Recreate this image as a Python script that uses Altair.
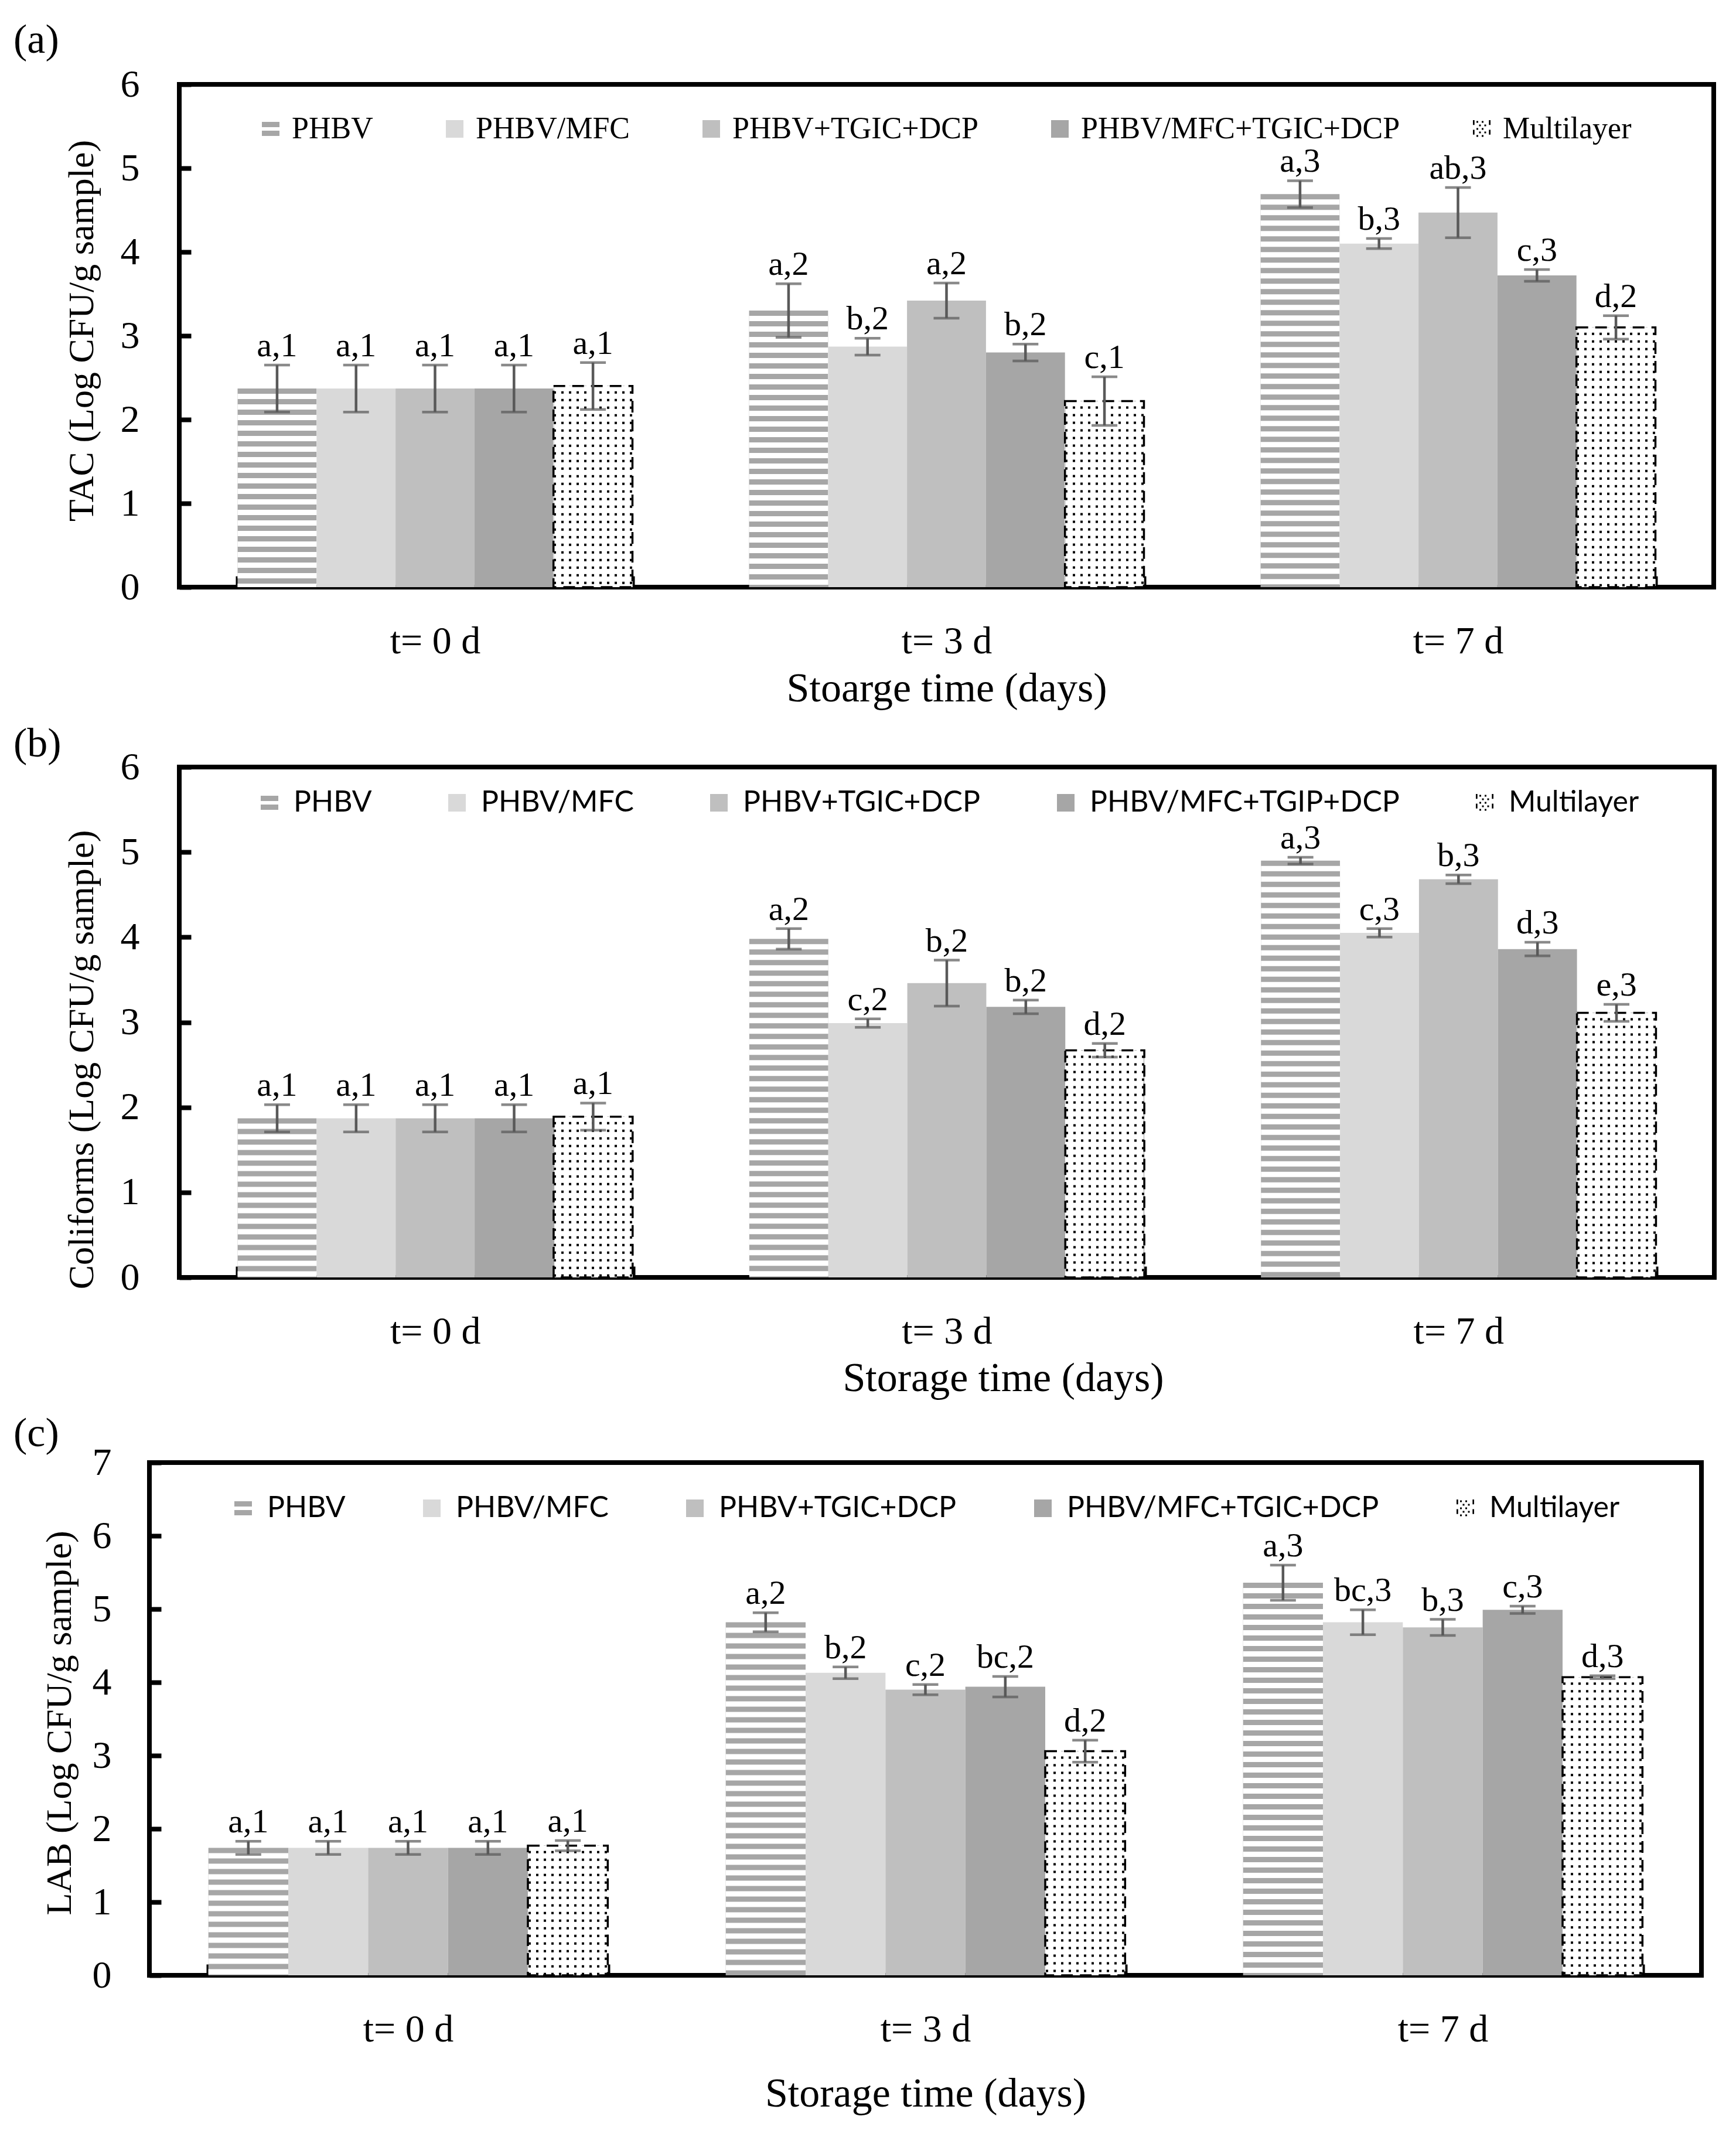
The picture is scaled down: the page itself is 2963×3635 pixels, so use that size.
import altair as alt
import pandas as pd

# ---------------- data ----------------
times = ["t= 0 d", "t= 3 d", "t= 7 d"]

series_tac = ["PHBV", "PHBV/MFC", "PHBV+TGIC+DCP", "PHBV/MFC+TGIC+DCP", "Multilayer"]
series_col = ["PHBV", "PHBV/MFC", "PHBV+TGIC+DCP", "PHBV/MFC+TGIP+DCP", "Multilayer"]
series_lab = ["PHBV", "PHBV/MFC", "PHBV+TGIC+DCP", "PHBV/MFC+TGIC+DCP", "Multilayer"]

# rows: storage time, columns: film
tac_mean = [[2.37, 2.37, 2.37, 2.37, 2.40],
            [3.30, 2.87, 3.42, 2.80, 2.22],
            [4.69, 4.10, 4.47, 3.72, 3.10]]
tac_err = [[0.28, 0.28, 0.28, 0.28, 0.28],
           [0.32, 0.10, 0.21, 0.10, 0.29],
           [0.16, 0.06, 0.30, 0.07, 0.14]]
tac_letters = [["a,1", "a,1", "a,1", "a,1", "a,1"],
               ["a,2", "b,2", "a,2", "b,2", "c,1"],
               ["a,3", "b,3", "ab,3", "c,3", "d,2"]]

col_mean = [[1.87, 1.87, 1.87, 1.87, 1.89],
            [3.98, 2.99, 3.46, 3.18, 2.67],
            [4.90, 4.05, 4.68, 3.86, 3.11]]
col_err = [[0.16, 0.16, 0.16, 0.16, 0.16],
           [0.12, 0.05, 0.27, 0.08, 0.08],
           [0.04, 0.05, 0.05, 0.08, 0.10]]
col_letters = [["a,1", "a,1", "a,1", "a,1", "a,1"],
               ["a,2", "c,2", "b,2", "b,2", "d,2"],
               ["a,3", "c,3", "b,3", "d,3", "e,3"]]

lab_mean = [[1.74, 1.74, 1.74, 1.74, 1.77],
            [4.82, 4.13, 3.90, 3.94, 3.06],
            [5.36, 4.82, 4.75, 4.99, 4.07]]
lab_err = [[0.09, 0.09, 0.09, 0.09, 0.07],
           [0.13, 0.08, 0.07, 0.14, 0.15],
           [0.24, 0.17, 0.11, 0.05, 0.02]]
lab_letters = [["a,1", "a,1", "a,1", "a,1", "a,1"],
               ["a,2", "b,2", "c,2", "bc,2", "d,2"],
               ["a,3", "bc,3", "b,3", "c,3", "d,3"]]

fill_colors = ["#a6a6a6", "#d9d9d9", "#bfbfbf", "#a6a6a6", "#ffffff"]
legend_colors = ["#a6a6a6", "#d9d9d9", "#bfbfbf", "#a6a6a6", "#000000"]
ERR_COLOR = "#595959"
SERIF = "Liberation Serif"
SANS = "Lato"

# legend symbols
PATH_EQ = "M-1,-0.8H1V-0.2H-1Z M-1,0.2H1V0.8H-1Z"
ml_parts = []
for r, yy in enumerate([-0.9, -0.5, -0.1, 0.3, 0.7]):
    xs = [-0.5, 0.1] if r % 2 == 0 else [-0.2, 0.4]
    for xx in xs:
        ml_parts.append(f"M{xx - 0.1:.2f},{yy:.2f}h0.2v0.2h-0.2Z")
ml_parts += ["M-1,-1H-0.82V-0.45H-1Z", "M-1,0.1H-0.82V0.65H-1Z",
             "M0.82,-1H1V-0.45H0.82Z", "M0.82,0.1H1V0.65H0.82Z"]
PATH_ML = " ".join(ml_parts)

ALL_IND = dict(x="independent", y="independent", xOffset="independent",
               fill="independent", color="independent", shape="independent")
LEG_IND = dict(color="independent", shape="independent", fill="independent")


def dot_gradient(width, period=13.0, dot=4.0):
    n = int((width - dot) // period) + 1
    margin = (width - (n - 1) * period - dot) / 2
    stops = [alt.GradientStop(color="white", offset=0)]
    for k in range(n):
        a = (margin + k * period) / width
        b = (margin + k * period + dot) / width
        stops += [alt.GradientStop(color="white", offset=a),
                  alt.GradientStop(color="black", offset=a),
                  alt.GradientStop(color="black", offset=b),
                  alt.GradientStop(color="white", offset=b)]
    stops.append(alt.GradientStop(color="white", offset=1))
    return alt.Gradient(gradient="linear", stops=stops, x1=0, x2=1, y1=0, y2=0)


def make_panel(p):
    rows = []
    for i, t in enumerate(times):
        for j, s in enumerate(p["series"]):
            m = p["mean"][i][j]
            e = p["err"][i][j]
            rows.append(dict(time=t, series=s, mean=m, lo=m - e, hi=m + e,
                             zero=0, label=p["letters"][i][j]))
    df = pd.DataFrame(rows)
    W, H = p["width"], p["height"]
    pin = 0.228
    sub = (W / 3) * (1 - pin) / 5
    series = p["series"]

    xaxis = alt.Axis(title=p["xtitle"], offset=-19, tickSize=19, tickWidth=8,
                     tickColor="black", tickBand="extent", domain=False, grid=False,
                     labelAngle=0, labelPadding=60, labelFont=SERIF, labelFontSize=66,
                     labelColor="black", titleFont=SERIF, titleFontSize=70,
                     titleFontWeight="normal", titleColor="black",
                     titlePadding=p["xtitle_pad"], **p.get("xtitle_extra", {}))
    yaxis = alt.Axis(title=p["ytitle"], values=list(range(p["ymax"] + 1)), format="d",
                     offset=-20, tickSize=20, tickWidth=8, tickColor="black",
                     domain=False, grid=False, labelFlush=False, labelOverlap=False,
                     labelPadding=p["ylabel_pad"], labelFont=SERIF, labelFontSize=66,
                     labelColor="black", titleFont=SERIF, titleFontSize=62,
                     titleFontWeight="normal", titleColor="black",
                     titlePadding=p["ytitle_pad"], titleY=p["ytitle_y"])
    xscale = alt.Scale(domain=times, paddingInner=pin, paddingOuter=pin / 2)
    yscale = alt.Scale(domain=[0, p["ymax"]], nice=False, zero=True)
    oscale = alt.Scale(domain=series, paddingInner=0, paddingOuter=0)

    def Y(f):
        return alt.Y(f + ":Q", scale=yscale, axis=yaxis)

    base = alt.Chart(df).encode(
        x=alt.X("time:N", scale=xscale, axis=xaxis),
        xOffset=alt.XOffset("series:N", scale=oscale),
    )
    is_phbv = alt.datum.series == series[0]
    is_ml = alt.datum.series == series[4]

    # fill scale gets an extra unused domain entry so that it is not merged with the legend scales
    bars = base.mark_bar(strokeWidth=0).encode(
        y=Y("mean"),
        fill=alt.Fill("series:N", scale=alt.Scale(domain=series + ["-"], range=fill_colors + ["#ffffff"]),
                      legend=None),
    )
    stripes = base.transform_filter(is_phbv).mark_rule(
        color="white", strokeWidth=sub, strokeDash=[9, 9], strokeDashOffset=9, strokeCap="butt"
    ).encode(y=Y("mean"), y2="zero:Q")
    dots = base.transform_filter(is_ml).mark_bar(fill=dot_gradient(sub), strokeWidth=0).encode(y=Y("mean"))
    mask = base.transform_filter(is_ml).mark_rule(
        color="white", strokeWidth=sub - 1, strokeDash=[9, 4], strokeCap="butt"
    ).encode(y=Y("mean"), y2="zero:Q")
    border = base.transform_filter(is_ml).mark_bar(
        fillOpacity=0, stroke="black", strokeWidth=3.5, strokeDash=[20, 12]
    ).encode(y=Y("mean"))
    err_rule = base.mark_rule(color=ERR_COLOR, strokeWidth=4.5).encode(y=Y("lo"), y2="hi:Q")
    err_top = base.mark_tick(color=ERR_COLOR, thickness=4.5, size=44).encode(y=Y("hi"))
    err_bot = base.mark_tick(color=ERR_COLOR, thickness=4.5, size=44).encode(y=Y("lo"))
    labels = base.mark_text(baseline="bottom", dy=-3, font=SERIF, fontSize=58, color="black").encode(
        y=Y("hi"), text="label:N")

    leg = alt.Legend(title=None, orient="none", legendX=p["legendX"], legendY=p["legendY"],
                     direction="horizontal", columns=5, symbolSize=900, symbolOpacity=1,
                     symbolStrokeWidth=0, labelFont=p["legend_font"], labelFontSize=p["legend_size"],
                     labelColor="black", labelOffset=p["label_offset"], columnPadding=p["col_pad"],
                     padding=0, rowPadding=0, labelLimit=3000)
    legend_pts = base.mark_point(filled=True, opacity=0).encode(
        y=Y("mean"),
        color=alt.Color("series:N", scale=alt.Scale(domain=series, range=legend_colors), legend=leg),
        shape=alt.Shape("series:N", scale=alt.Scale(domain=series,
                        range=[PATH_EQ, "square", "square", "square", PATH_ML]), legend=leg),
    )

    tag = alt.Chart(pd.DataFrame({"tag": [p["tag"]]})).mark_text(
        align="left", baseline="middle", font=SERIF, fontSize=70, color="black"
    ).encode(text="tag:N", x=alt.value(p["tag_x"]), y=alt.value(p["tag_y"]))

    return alt.layer(bars, stripes, dots, mask, border, err_rule, err_top, err_bot,
                     labels, legend_pts, tag).properties(width=W, height=H)


def spacer():
    return alt.Chart(pd.DataFrame({"s": [0]})).mark_point(opacity=0).encode(
        x=alt.value(0), y=alt.value(0)
    ).properties(width=1, height=1, view=alt.ViewBackground(stroke="transparent", strokeWidth=0))


panel_a = make_panel(dict(
    series=series_tac, mean=tac_mean, err=tac_err, letters=tac_letters,
    width=2619, height=858, ymax=6, tag="(a)", tag_x=-283, tag_y=-75,
    ytitle="TAC (Log CFU/g sample)", xtitle="Stoarge time (days)",
    ylabel_pad=68, ytitle_pad=34, ytitle_y=420, xtitle_pad=14,
    legendX=130, legendY=50, legend_font=SERIF, legend_size=52, label_offset=10, col_pad=113,
))
panel_b = make_panel(dict(
    series=series_col, mean=col_mean, err=col_err, letters=col_letters,
    width=2620, height=871, ymax=6, tag="(b)", tag_x=-283, tag_y=-39,
    ytitle="Coliforms (Log CFU/g sample)", xtitle="Storage time (days)",
    ylabel_pad=68, ytitle_pad=34, ytitle_y=499, xtitle_pad=13,
    xtitle_extra=dict(titleX=1406),
    legendX=129, legendY=36, legend_font=SANS, legend_size=50, label_offset=16, col_pad=120,
))
panel_c = make_panel(dict(
    series=series_lab, mean=lab_mean, err=lab_err, letters=lab_letters,
    width=2649, height=875, ymax=7, tag="(c)", tag_x=-232, tag_y=-49,
    ytitle="LAB (Log CFU/g sample)", xtitle="Storage time (days)",
    ylabel_pad=65, ytitle_pad=24, ytitle_y=444, xtitle_pad=43,
    legendX=135, legendY=53, legend_font=SANS, legend_size=50, label_offset=16, col_pad=122,
))

top = alt.vconcat(panel_a, panel_b, spacing=17).resolve_scale(**ALL_IND).resolve_legend(**LEG_IND)
row1 = alt.hconcat(spacer(), top, spacing=0).resolve_scale(**ALL_IND).resolve_legend(**LEG_IND)
row2 = alt.hconcat(spacer(), panel_c, spacing=0).resolve_scale(**ALL_IND).resolve_legend(**LEG_IND)
chart = alt.vconcat(row1, row2, spacing=17).resolve_scale(**ALL_IND).resolve_legend(**LEG_IND).properties(
    padding={"left": 5, "top": 22, "right": 0, "bottom": 0}
).configure_view(stroke="black", strokeWidth=8)

chart.save("out.html", embed_options={"renderer": "svg", "actions": False})
